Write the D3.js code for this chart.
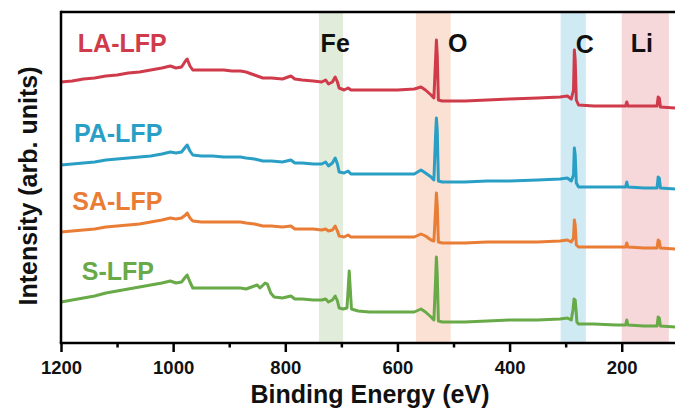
<!DOCTYPE html>
<html>
<head>
<meta charset="utf-8">
<script src="https://cdn.jsdelivr.net/npm/d3@7"></script>
<style>
  html, body { margin: 0; padding: 0; background: #fff; }
  svg { display: block; }
  text { font-family: "Liberation Sans", Arial, sans-serif; font-weight: bold; }
</style>
</head>
<body>
<svg id="chart" width="675" height="416"></svg>
<script>
// ---- data (binding energy eV, intensity arb. units) ----
const majorTicks = [1200, 1000, 800, 600, 400, 200];
const minorTicks = [1100, 900, 700, 500, 300];

const bands = [
  { name: "Fe", from: 740, to: 697, color: "#e2ecda" },
  { name: "O",  from: 567, to: 505, color: "#fbe1d3" },
  { name: "C",  from: 309, to: 264, color: "#d0eaf4" },
  { name: "Li", from: 200, to: 116, color: "#f6d7da" }
];

const seriesNames  = ["LA-LFP", "PA-LFP", "SA-LFP", "S-LFP"];
const seriesColors = ["#d03b4b", "#2a9fc6", "#ea7d36", "#69aa48"];

const laLFP = [
  [1200,261],[1180,262],[1160,264],[1140,265],[1120,267],[1100,268],[1080,270],[1060,271],[1040,273],[1020,275],
  [1005,277],[995,275],[985,276],[978,282],[975,284],[970,277],[965,273],[950,273],[930,273],[910,273],
  [895,272],[880,272],[870,271],[855,268],[840,265],[825,265],[805,264],[790,267],[783,264],[770,263],
  [750,262],[735,261],[728,263],[723,259],[716,261],[711,266],[707,261],[704,255],[695,253],[688,255],
  [683,253],[650,253],[600,253],[570,254],[558,256],[550,253],[540,248],[535,245],[532,283],[530.5,303],
  [529,288],[527,243],[520,242],[480,242],[440,243],[400,244],[350,245],[310,246],[297,247],[290,244],
  [286,253],[284.5,293],[283,283],[281,243],[277,238],[250,237],[210,237],[193,237],[191,241],[189,237],
  [160,237],[137,237],[135,246],[133,245],[131,236],[105,235]
];

const paLFP = [
  [1200,178],[1180,179],[1160,180],[1140,181],[1120,183],[1100,184],[1080,185],[1060,186],[1040,187],[1020,189],
  [1005,191],[995,190],[985,191],[978,196],[975,198],[970,192],[965,188],[950,187],[930,187],[910,186],
  [895,186],[880,186],[870,185],[855,184],[840,182],[825,182],[805,181],[790,183],[783,180],[770,180],
  [750,179],[735,179],[728,181],[723,177],[716,180],[711,185],[707,179],[704,171],[695,170],[688,172],
  [683,169],[650,169],[600,169],[570,169],[558,173],[550,170],[540,166],[535,163],[532,208],[530.5,225],
  [529,213],[527,162],[520,161],[480,161],[440,162],[400,162],[350,163],[310,164],[297,165],[290,162],
  [286,168],[284.5,195],[283,188],[281,160],[277,156],[250,156],[210,156],[193,156],[191,161],[189,156],
  [160,155],[137,155],[135,166],[133,165],[131,155],[105,154]
];

const saLFP = [
  [1200,111],[1180,112],[1160,113],[1140,114],[1120,116],[1100,117],[1080,118],[1060,119],[1040,121],[1020,123],
  [1005,125],[995,124],[985,125],[978,128],[975,130],[970,125],[965,122],[950,121],[930,121],[910,121],
  [895,121],[880,121],[870,120],[855,119],[840,117],[825,117],[805,116],[790,117],[783,114],[770,114],
  [750,114],[735,113],[728,114],[723,112],[716,113],[711,117],[707,112],[704,107],[695,106],[688,108],
  [683,106],[650,106],[600,106],[570,106],[558,109],[550,107],[540,103],[535,102],[532,133],[530.5,150],
  [529,138],[527,101],[520,100],[480,100],[440,101],[400,101],[350,101],[310,102],[297,103],[290,101],
  [286,105],[284.5,123],[283,118],[281,98],[277,96],[250,96],[210,96],[193,96],[191,100],[189,96],
  [160,95],[137,95],[135,103],[133,102],[131,95],[105,94]
];

const sLFP = [
  [1200,41],[1180,43],[1160,45],[1140,47],[1120,50],[1100,52],[1080,54],[1060,56],[1040,58],[1020,60],
  [1005,62],[995,60],[985,61],[978,66],[975,68],[970,61],[965,55],[950,55],[930,55],[910,55],
  [895,55],[880,55],[870,54],[860,56],[850,58],[845,55],[836,60],[832,59],[826,50],[820,46],
  [805,45],[790,47],[783,44],[770,44],[750,43],[735,43],[728,44],[723,41],[716,43],[711,47],
  [707,42],[704,35],[697,34],[690,35],[688,53],[686,72],[684,53],[682,34],[670,32],[650,31],
  [600,31],[570,31],[558,34],[550,31],[540,26],[535,23],[532,63],[530.5,86],[529,68],[527,22],
  [520,21],[480,21],[440,22],[400,23],[350,23],[310,24],[297,25],[290,23],[287,33],[285,44],
  [283,43],[281.5,33],[280,21],[277,19],[250,19],[210,18],[193,18],[191,23],[189,18],[160,17],
  [137,17],[135,26],[133,25],[131,17],[105,16]
];

const seriesData = [laLFP, paLFP, saLFP, sLFP];

// label anchors (in data units so they follow the scales)
const seriesLabelPos = [[1170, 291], [1177, 201], [1180, 133], [1163, 63]];
const bandLabelPos   = [[737, 291], [510, 291], [282, 290], [184, 291]];

// ---- layout ----
const mLeft = 61, mRight = 675, mTop = 12, mBottom = 343;
const svg = d3.select("#chart");

const x = d3.scaleLinear().domain([1200, 105]).range([mLeft, mRight]);
const y = d3.scaleLinear().domain([0, 331]).range([mBottom, mTop]);

svg.append("defs").append("clipPath").attr("id", "clip")
  .append("rect").attr("x", mLeft).attr("y", mTop).attr("width", mRight - mLeft).attr("height", mBottom - mTop);

// bands
svg.append("g").selectAll("rect").data(bands).join("rect")
  .attr("x", d => x(d.from))
  .attr("width", d => x(d.to) - x(d.from))
  .attr("y", mTop)
  .attr("height", mBottom - mTop)
  .attr("fill", d => d.color);

// lines
const line = d3.line().x(d => x(d[0])).y(d => y(d[1])).curve(d3.curveLinear);
svg.append("g").attr("clip-path", "url(#clip)")
  .selectAll("path").data(seriesData).join("path")
  .attr("d", line)
  .attr("fill", "none")
  .attr("stroke", (d, i) => seriesColors[i])
  .attr("stroke-width", 3)
  .attr("stroke-linejoin", "round");

// frame: top and left
svg.append("line").attr("x1", mLeft).attr("x2", mRight).attr("y1", mTop).attr("y2", mTop)
  .attr("stroke", "#000").attr("stroke-width", 2.5);
svg.append("line").attr("x1", mLeft).attr("x2", mLeft).attr("y1", mTop - 1.25).attr("y2", mBottom)
  .attr("stroke", "#000").attr("stroke-width", 2.5);

// x axis
const xAxis = svg.append("g").attr("transform", `translate(0,${mBottom})`)
  .call(d3.axisBottom(x).tickValues(majorTicks).tickSize(9).tickPadding(9).tickFormat(d3.format("d")));
xAxis.select(".domain").attr("stroke-width", 2.5).attr("d", `M${mLeft - 1.25},0H${mRight}`);
xAxis.selectAll(".tick line").attr("stroke-width", 2.5);
xAxis.selectAll(".tick text").attr("font-size", 18.5).attr("fill", "#111")
  .attr("font-family", '"Liberation Sans", Arial, sans-serif').attr("font-weight", "bold");

const xMinor = svg.append("g").attr("transform", `translate(0,${mBottom})`)
  .call(d3.axisBottom(x).tickValues(minorTicks).tickSize(4.5).tickFormat(""));
xMinor.select(".domain").remove();
xMinor.selectAll(".tick line").attr("stroke-width", 2.5);

// axis titles
svg.append("text").attr("x", 370).attr("y", 403).attr("text-anchor", "middle")
  .attr("font-size", 25).attr("fill", "#111").text("Binding Energy (eV)");
svg.append("text").attr("transform", "translate(37,186) rotate(-90)").attr("text-anchor", "middle")
  .attr("font-size", 25).attr("fill", "#111").text("Intensity (arb. units)");

// series labels
svg.append("g").selectAll("text").data(seriesNames).join("text")
  .attr("x", (d, i) => x(seriesLabelPos[i][0]))
  .attr("y", (d, i) => y(seriesLabelPos[i][1]))
  .attr("font-size", 25)
  .attr("fill", (d, i) => seriesColors[i])
  .text(d => d);

// band labels
svg.append("g").selectAll("text").data(bands).join("text")
  .attr("x", (d, i) => x(bandLabelPos[i][0]))
  .attr("y", (d, i) => y(bandLabelPos[i][1]))
  .attr("font-size", 25)
  .attr("fill", "#111")
  .text(d => d.name);
</script>
</body>
</html>
